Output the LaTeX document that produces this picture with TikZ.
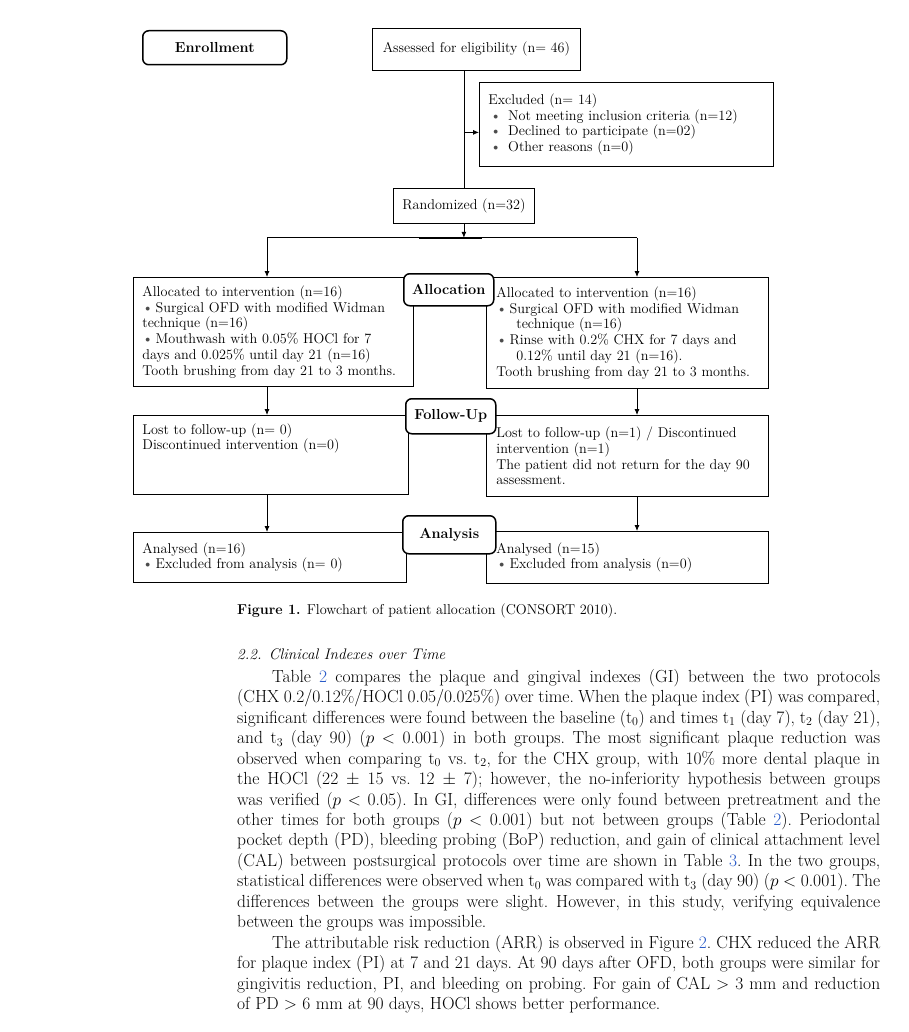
\documentclass[tikz,border=0pt]{standalone}
\usepackage{fontspec}
\usepackage{xcolor}
\usetikzlibrary{arrows.meta,positioning}
\definecolor{linkblue}{RGB}{40,90,200}
\newcommand{\bul}{\textcolor{black!70}{\textbullet}}

\begin{document}
\begin{tikzpicture}[x=1pt, y=-1pt,
    box/.style={draw, line width=0.8pt, anchor=north west, inner xsep=9pt,
      inner ysep=2pt, align=left, font=\fontsize{14.2}{15.8}\selectfont},
    stage/.style={draw, line width=1.5pt, rounded corners=6pt, fill=white,
      anchor=north west, inner sep=0pt, font=\fontsize{14.5}{16}\selectfont\bfseries},
    flow/.style={-{Latex[length=6pt, width=5pt]}, line width=0.8pt}]
    \useasboundingbox [fill=white] (0,0) rectangle (908,1032);

    % Enrollment
    \node [box, inner xsep=0pt, minimum width=208pt, minimum height=42pt, align=center] (assess) at (372,28) {Assessed for eligibility (n= 46)};
    \node [box, text width=276pt, minimum height=84pt] (excl) at (479,82) {Excluded (n= 14)\\
      \hspace*{2pt}\bul\hspace{7pt}Not meeting inclusion criteria (n=12)\\
      \hspace*{2pt}\bul\hspace{7pt}Declined to participate (n=02)\\
      \hspace*{2pt}\bul\hspace{7pt}Other reasons (n=0)};
    \node [box, inner xsep=0pt, minimum width=141pt, minimum height=35pt, align=center] (rand) at (393,188) {Randomized (n=32)};
    \node [stage, minimum width=144pt, minimum height=34pt] (enroll) at (142,30) {Enrollment};

    % column positions
    \coordinate (colL) at (267,0);
    \coordinate (colR) at (637,0);
    \coordinate (split) at ([yshift=-14pt]rand.south);
    \coordinate (exin) at ([yshift=-8pt]excl.west);

    % Allocation
    \node [box, text width=262pt, minimum height=109pt] (allocL) at (133,277) {Allocated to intervention (n=16)\\
      \bul\,Surgical OFD with modified Widman\\
      technique (n=16)\\
      \bul\,Mouthwash with 0.05\% HOCl for 7\\
      days and 0.025\% until day 21 (n=16)\\
      Tooth brushing from day 21 to 3 months.};
    \node [box, inner xsep=10pt, text width=262pt, minimum height=111pt] (allocR) at (486,277) {Allocated to intervention (n=16)\\
      \bul\,Surgical OFD with modified Widman\\
      \hspace*{20pt}technique (n=16)\\
      \bul\,Rinse with 0.2\% CHX for 7 days and\\
      \hspace*{20pt}0.12\% until day 21 (n=16).\\
      Tooth brushing from day 21 to 3 months.};
    \node [stage, minimum width=90pt, minimum height=32pt] (alloc) at (403,273) {Allocation};

    % Follow-Up
    \node [box, text width=257pt, minimum height=79pt] (fuL) at (133,415) {Lost to follow-up (n= 0)\\
      Discontinued intervention (n=0)\\ \strut\\ \strut};
    \node [box, inner xsep=10pt, text width=262pt, minimum height=81pt] (fuR) at (486,415) {Lost to follow-up (n=1) / Discontinued\\
      intervention (n=1)\\
      The patient did not return for the day 90\\
      assessment.};
    \node [stage, minimum width=90pt, minimum height=35pt] (fu) at (405,398) {Follow-Up};

    % Analysis
    \node [box, text width=255pt, minimum height=50pt] (anL) at (133,532) {Analysed (n=16)\\
      \bul\,Excluded from analysis (n= 0)};
    \node [box, inner xsep=10pt, text width=262pt, minimum height=52pt] (anR) at (486,531) {Analysed (n=15)\\
      \bul\,Excluded from analysis (n=0)};
    \node [stage, minimum width=93pt, minimum height=38pt] (an) at (402,515) {Analysis};

    % connectors
    \draw [line width=0.8pt] (assess.south -| rand.north) -- (rand.north);
    \draw [flow] (exin -| rand.north) -- (exin);
    \draw [flow] (rand.south) -- (split);
    \draw [line width=0.8pt] (colL |- split) -- (colR |- split);
    \draw [line width=2pt] ([xshift=-45pt]split) -- ([xshift=18pt]split);
    \draw [flow] (colL |- split) -- (colL |- allocL.north);
    \draw [flow] (colR |- split) -- (colR |- allocR.north);
    \draw [flow] (colL |- allocL.south) -- (colL |- fuL.north);
    \draw [flow] (colR |- allocR.south) -- (colR |- fuR.north);
    \draw [flow] (colL |- fuL.south) -- (colL |- anL.north);
    \draw [flow] (colR |- fuR.south) -- (colR |- anR.north);

    % caption and text
    \node [anchor=west, inner sep=0pt, font=\fontsize{14.3}{16}\selectfont] (caption) at (237,611) {\textbf{Figure 1.} Flowchart of patient allocation (CONSORT 2010).};
    \node [anchor=base west, inner sep=0pt, font=\fontsize{15.3}{18}\selectfont\itshape] (head) at (237,659) {2.2. Clinical Indexes over Time};
    \node [anchor=north west, inner sep=0pt, text width=643pt, align=justify,
      font=\fontsize{17.5}{20.45}\selectfont] (body) at (237,669) {\tolerance=10000 \frenchspacing
      \hspace*{35pt}Table \textcolor{linkblue}{2} compares the plaque and gingival indexes (GI) between the two protocols\linebreak
      (CHX 0.2/0.12\%/HOCl 0.05/0.025\%) over time. When the plaque index (PI) was compared,\linebreak
      significant differences were found between the baseline (t$_0$) and times t$_1$ (day 7), t$_2$ (day 21),\linebreak
      and t$_3$ (day 90) ($p$ $<$ 0.001) in both groups. The most significant plaque reduction was\linebreak
      observed when comparing t$_0$ vs. t$_2$, for the CHX group, with 10\% more dental plaque in\linebreak
      the HOCl (22 $\pm$ 15 vs. 12 $\pm$ 7); however, the no-inferiority hypothesis between groups\linebreak
      was verified ($p$ $<$ 0.05). In GI, differences were only found between pretreatment and the\linebreak
      other times for both groups ($p$ $<$ 0.001) but not between groups (Table \textcolor{linkblue}{2}). Periodontal\linebreak
      pocket depth (PD), bleeding probing (BoP) reduction, and gain of clinical attachment level\linebreak
      (CAL) between postsurgical protocols over time are shown in Table \textcolor{linkblue}{3}. In the two groups,\linebreak
      statistical differences were observed when t$_0$ was compared with t$_3$ (day 90) ($p$ $<$ 0.001). The\linebreak
      differences between the groups were slight. However, in this study, verifying equivalence\linebreak
      between the groups was impossible.\par
      \hspace*{35pt}The attributable risk reduction (ARR) is observed in Figure \textcolor{linkblue}{2}. CHX reduced the ARR\linebreak
      for plaque index (PI) at 7 and 21 days. At 90 days after OFD, both groups were similar for\linebreak
      gingivitis reduction, PI, and bleeding on probing. For gain of CAL $>$ 3 mm and reduction\linebreak
      of PD $>$ 6 mm at 90 days, HOCl shows better performance.\par};
\end{tikzpicture}
\end{document}
